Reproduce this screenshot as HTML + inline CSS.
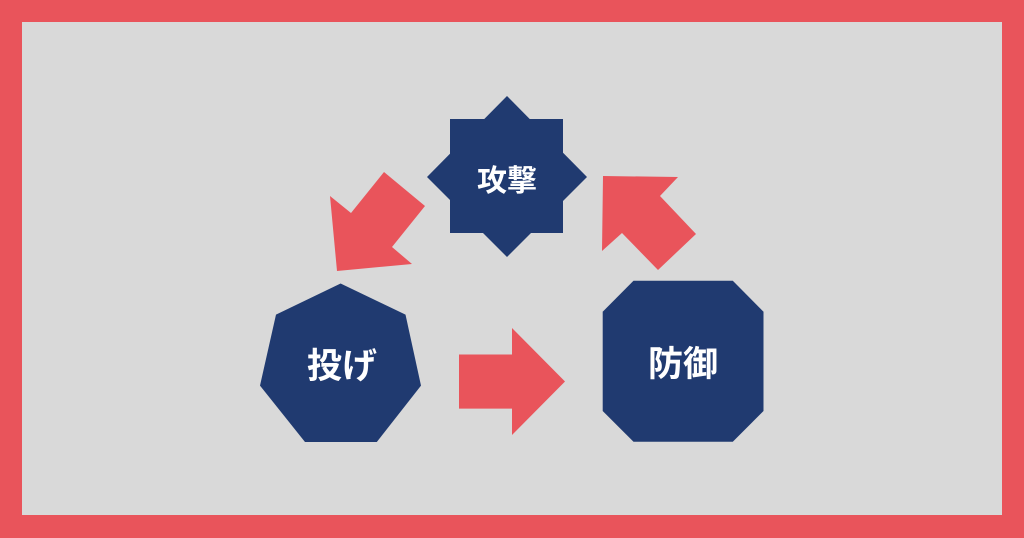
<!DOCTYPE html>
<html><head><meta charset="utf-8"><style>
html,body{margin:0;padding:0;width:1024px;height:538px;overflow:hidden;background:#e9545b}
svg{display:block}
text{font-family:"Liberation Sans","Noto Sans CJK JP",sans-serif;font-weight:bold;fill:#fff}
</style></head><body>
<svg width="1024" height="538" viewBox="0 0 1024 538">
<rect x="0" y="0" width="1024" height="538" fill="#e9545b"/>
<rect x="22" y="22" width="980" height="493" fill="#d9d9d9"/>
<g fill="#203a70">
<polygon points="507,96 587,177 507,257 427,177"/>
<rect x="450" y="119" width="113" height="114"/>
<polygon points="340.6,283.5 405.5,314.6 421,385.6 376.8,442 305,442 260,385.6 276,314.6"/>
<polygon points="633.5,280.8 732.8,280.8 763.5,311.8 763.5,411 732.8,441.8 633.5,441.8 602.7,411 602.7,311.8"/>
</g>
<g fill="#e9545b">
<polygon points="384,172 425,206 392,247 412,264 337,271 330,196 351,213"/>
<polygon points="603,176 678,177 660,196 696,234 658,270 622,233 602,251"/>
<polygon points="459,354.5 512,354.5 512,328 565,381.5 512,435 512,408.6 459,408.6"/>
</g>
<text x="507" y="191" font-size="30" text-anchor="middle">攻撃</text>
<text x="342" y="378" font-size="35" text-anchor="middle">投げ</text>
<text x="683" y="376" font-size="35" text-anchor="middle">防御</text>
</svg>
</body></html>
